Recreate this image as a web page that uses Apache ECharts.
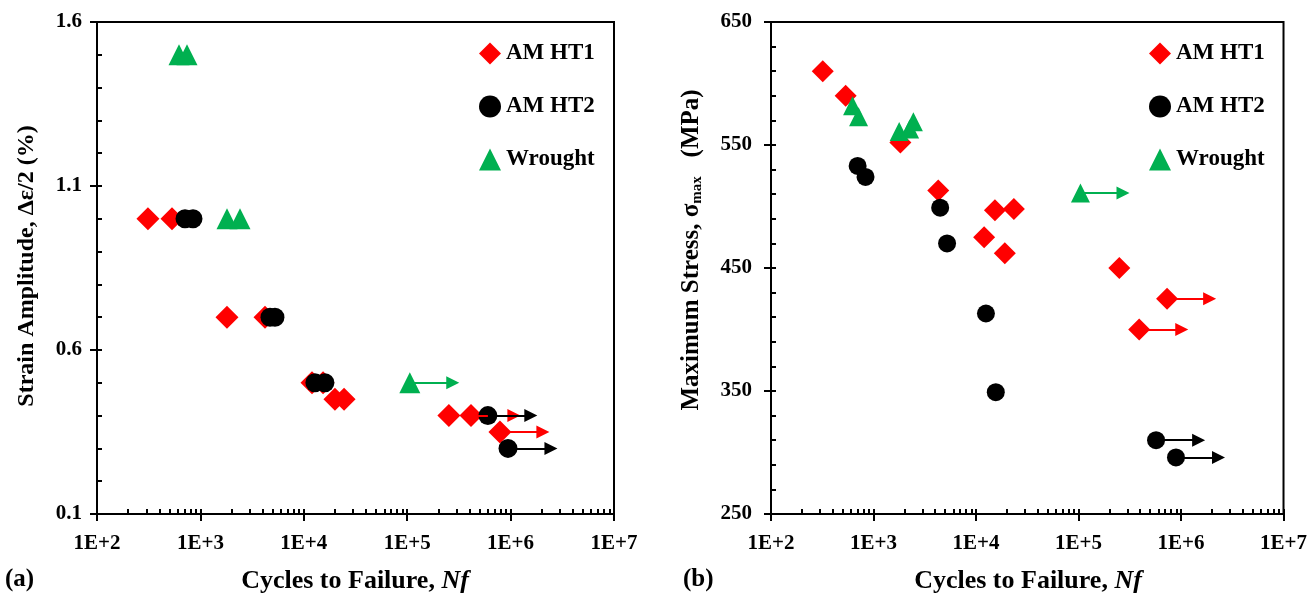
<!DOCTYPE html>
<html>
<head>
<meta charset="utf-8">
<script src="https://cdn.jsdelivr.net/npm/echarts@6/dist/echarts.min.js"></script>
<style>html,body{margin:0;padding:0;background:#fff;}#c{width:1310px;height:594px;}</style>
</head>
<body>
<div id="c"></div>
<script>
// ---------- DATA ----------
const seriesNames = ['AM HT1', 'AM HT2', 'Wrought'];
const seriesColors = ['#FF0000', '#000000', '#00B050'];
const xTickLabels = ['1E+2', '1E+3', '1E+4', '1E+5', '1E+6', '1E+7'];

// (a) strain amplitude [cycles, %]
const ht1Strain = [[311,1.0],[531,1.0],[1807,0.7],[4217,0.7],[12000,0.5],[15350,0.5],[20000,0.45],[24500,0.45],[253000,0.4],[414000,0.4],[789000,0.35]];
const ht1StrainRunout = [414000, 789000];
const ht2Strain = [[710,1.0],[848,1.0],[4710,0.7],[5260,0.7],[12800,0.5],[16000,0.5],[603000,0.4],[944000,0.3]];
const ht2StrainRunout = [603000, 944000];
const wroughtStrain = [[621,1.5],[742,1.5],[1807,1.0],[2415,1.0],[106000,0.5]];
const wroughtStrainRunout = [106000];
const strainTicks = ['0.1', '0.6', '1.1', '1.6'];

// (b) maximum stress [cycles, MPa]
const ht1Stress = [[320,610],[535,590],[1830,552],[4280,513],[12000,475],[15300,497],[19100,462],[23400,498],[250000,450],[391000,400],[731000,425]];
const ht1StressRunout = [391000, 731000];
const ht2Stress = [[700,533],[836,524],[4470,499],[5220,470],[12500,413],[15600,349],[571000,310],[893000,296]];
const ht2StressRunout = [571000, 893000];
const wroughtStress = [[625,582],[715,573],[1780,561],[2250,563],[2450,569],[104500,511]];
const wroughtStressRunout = [104500];
const stressTicks = ['250', '350', '450', '550', '650'];

// ---------- STYLE ----------
const FONT = 'Liberation Serif';
const arrowFactor = 2.6;
const symbols = ['diamond', 'circle', 'triangle'];
const symSizesL = [23, 19, 21];
const symSizesR = [22, 18, 19];

const minorTickVals = [];
for (let e = 2; e < 7; e++) for (let m = 1; m <= 9; m++) minorTickVals.push(m * Math.pow(10, e));
minorTickVals.push(1e7);

function xAxes(gridIndex) {
  return [
    { type: 'log', logBase: 10, gridIndex, min: 100, max: 1e7, position: 'bottom',
      axisLine: { show: true, onZero: false, lineStyle: { color: '#000', width: 2 } },
      axisTick: { show: true, inside: false, length: 7, lineStyle: { color: '#000', width: 2 } },
      axisLabel: { show: true, margin: 19, color: '#000', fontFamily: FONT, fontWeight: 'bold', fontSize: 21,
        formatter: v => xTickLabels[Math.round(Math.log10(v)) - 2] },
      splitLine: { show: false } },
    { type: 'log', logBase: 10, gridIndex, min: 100, max: 1e7, position: 'bottom',
      axisLine: { show: false, onZero: false },
      axisTick: { show: true, inside: true, length: 5, customValues: minorTickVals, lineStyle: { color: '#000', width: 2 } },
      axisLabel: { show: false }, splitLine: { show: false } }
  ];
}
function yAxes(gridIndex, min, max, interval, labels, margin) {
  return [
    { type: 'value', gridIndex, min, max, interval, position: 'left',
      axisLine: { show: true, onZero: false, lineStyle: { color: '#000', width: 2 } },
      axisTick: { show: true, inside: false, length: 7, lineStyle: { color: '#000', width: 2 } },
      axisLabel: { show: true, margin, color: '#000', fontFamily: FONT, fontWeight: 'bold', fontSize: 21,
        formatter: v => { const f = labels.find(t => Math.abs(parseFloat(t) - v) < 1e-6); return f === undefined ? '' : f; } },
      splitLine: { show: false } },
    { type: 'value', gridIndex, min, max, interval, position: 'left',
      axisLine: { show: false, onZero: false },
      axisTick: { show: true, inside: true, length: 5, lineStyle: { color: '#000', width: 2 } },
      minorTick: { show: true, splitNumber: 5, length: 5, lineStyle: { color: '#000', width: 2 } },
      axisLabel: { show: false }, splitLine: { show: false }, minorSplitLine: { show: false } }
  ];
}

function makeSeries(name, idx, data, runouts, xi, yi, size) {
  const color = seriesColors[idx];
  const arrows = data.filter(p => runouts.includes(p[0])).map(p => [
    { coord: [p[0], p[1]] }, { coord: [p[0] * arrowFactor, p[1]] }
  ]);
  return {
    name, type: 'scatter', xAxisIndex: xi, yAxisIndex: yi, data,
    symbol: symbols[idx], symbolSize: size, itemStyle: { color, opacity: 1 },
    animation: false, z: 3 + idx,
    markLine: { silent: true, animation: false, symbol: ['none', 'triangle'], symbolSize: 13,
      label: { show: false }, lineStyle: { color, width: 2, type: 'solid' }, itemStyle: { color },
      emphasis: { disabled: true }, data: arrows }
  };
}

function legendFor(left) {
  return { orient: 'vertical', left, top: 37, itemGap: 30, itemWidth: 22, itemHeight: 22,
    data: seriesNames, selectedMode: false,
    textStyle: { color: '#000', fontFamily: FONT, fontWeight: 'bold', fontSize: 23 } };
}

const chart = echarts.init(document.getElementById('c'), null, { renderer: 'canvas' });
chart.setOption({
  backgroundColor: '#fff',
  animation: false,
  grid: [
    { left: 97, right: 696, top: 22, bottom: 80, show: true, borderColor: '#000', borderWidth: 2, containLabel: false },
    { left: 771, right: 24, top: 22, bottom: 80, show: true, borderColor: '#000', borderWidth: 2, containLabel: false }
  ],
  xAxis: [...xAxes(0), ...xAxes(1)],
  yAxis: [...yAxes(0, 0.1, 1.6, 0.5, strainTicks, 15), ...yAxes(1, 250, 650, 100, stressTicks, 19)],
  legend: [legendFor(474), legendFor(1144)],
  series: [
    makeSeries(seriesNames[0], 0, ht1Strain, ht1StrainRunout, 0, 0, symSizesL[0]),
    makeSeries(seriesNames[1], 1, ht2Strain, ht2StrainRunout, 0, 0, symSizesL[1]),
    makeSeries(seriesNames[2], 2, wroughtStrain, wroughtStrainRunout, 0, 0, symSizesL[2]),
    makeSeries(seriesNames[0], 0, ht1Stress, ht1StressRunout, 2, 2, symSizesR[0]),
    makeSeries(seriesNames[1], 1, ht2Stress, ht2StressRunout, 2, 2, symSizesR[1]),
    makeSeries(seriesNames[2], 2, wroughtStress, wroughtStressRunout, 2, 2, symSizesR[2])
  ],
  graphic: [
    { type: 'text', x: 27, y: 266, rotation: Math.PI / 2,
      style: { text: 'Strain Amplitude, Δε/2 (%)', fill: '#000', font: 'bold 24px "Liberation Serif"', align: 'center', verticalAlign: 'middle' } },
    { type: 'text', x: 692, y: 250, rotation: Math.PI / 2,
      style: { text: '{t|Maximum Stress, σ}{s|max}{t|   (MPa)}', align: 'center', verticalAlign: 'middle',
        rich: { t: { fill: '#000', fontFamily: FONT, fontWeight: 'bold', fontSize: 25 },
                s: { fill: '#000', fontFamily: FONT, fontWeight: 'bold', fontSize: 15, padding: [10, 0, 0, 0] } } } },
    { type: 'text', x: 355, y: 581,
      style: { text: '{t|Cycles to Failure, }{i|Nf}', align: 'center', verticalAlign: 'middle',
        rich: { t: { fill: '#000', fontFamily: FONT, fontWeight: 'bold', fontSize: 26 },
                i: { fill: '#000', fontFamily: FONT, fontWeight: 'bold', fontStyle: 'italic', fontSize: 26 } } } },
    { type: 'text', x: 1028, y: 581,
      style: { text: '{t|Cycles to Failure, }{i|Nf}', align: 'center', verticalAlign: 'middle',
        rich: { t: { fill: '#000', fontFamily: FONT, fontWeight: 'bold', fontSize: 26 },
                i: { fill: '#000', fontFamily: FONT, fontWeight: 'bold', fontStyle: 'italic', fontSize: 26 } } } },
    { type: 'text', x: 5, y: 580,
      style: { text: '(a)', fill: '#000', font: 'bold 25px "Liberation Serif"', verticalAlign: 'middle' } },
    { type: 'text', x: 683, y: 580,
      style: { text: '(b)', fill: '#000', font: 'bold 25px "Liberation Serif"', verticalAlign: 'middle' } }
  ]
});
</script>
</body>
</html>
